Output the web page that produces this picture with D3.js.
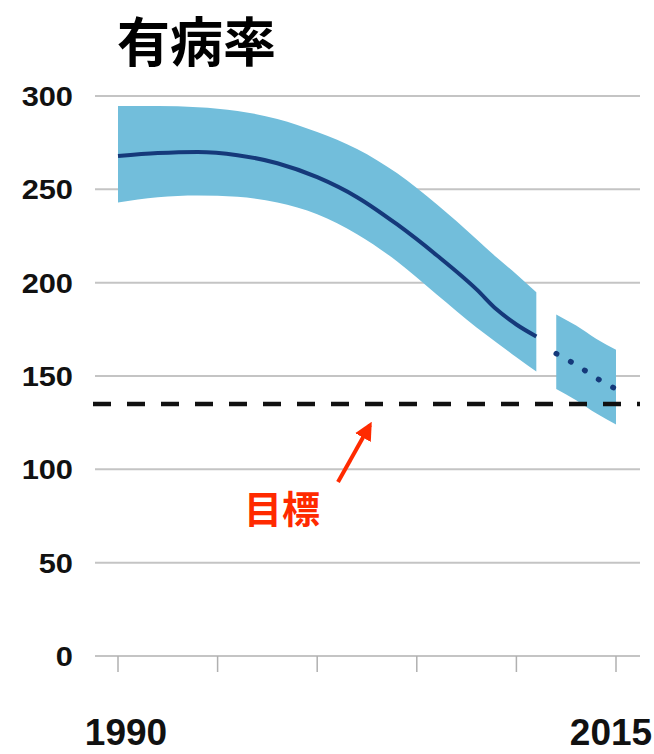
<!DOCTYPE html>
<html>
<head>
<meta charset="utf-8">
<script src="https://cdn.jsdelivr.net/npm/d3@7"></script>
<style>
  html, body { margin: 0; padding: 0; background: #ffffff; }
  svg { display: block; }
</style>
</head>
<body>
<div id="chart"></div>
<script>
// Prevalence estimates (per 100 000), 1990–2011 with uncertainty band
const years1 = [1990, 1992, 1994, 1996, 1998, 2000, 2002, 2004, 2006, 2008, 2009, 2010, 2011];
const mid1   = [267.8, 269.4, 270, 268.3, 264, 256.5, 245.8, 231.3, 214.7, 196.4, 185.7, 177.6, 171.2];
const upper1 = [294.6, 294.6, 294, 292, 287.7, 280.7, 271.6, 258.7, 242, 223.3, 213.6, 204.5, 194.8];
const lower1 = [243, 245.8, 246.7, 246, 243, 236.7, 226, 211.5, 193.7, 176, 168, 160, 152.4];

// Projection 2012–2015
const years2 = [2012, 2013, 2014, 2015];
const mid2   = [162, 156, 149, 143];
const upper2 = [183, 177, 170, 164];
const lower2 = [143, 137, 130, 124];

const targetValue = 135;
const yTicks = [0, 50, 100, 150, 200, 250, 300];
const xTicks = [1990, 1995, 2000, 2005, 2010, 2015];
const xLabels = [1990, 2015];

const W = 654, H = 754;
const svg = d3.select("#chart").append("svg").attr("width", W).attr("height", H);

const x = d3.scaleLinear().domain([1990, 2015]).range([118, 616]);
const y = d3.scaleLinear().domain([0, 300]).range([656, 96]);
const gridX0 = 95, gridX1 = 640;

// Title
svg.append("text")
  .attr("x", 117).attr("y", 62)
  .attr("font-family", "'Noto Sans CJK JP', 'Noto Sans CJK SC', sans-serif")
  .attr("font-weight", 700).attr("font-size", 53)
  .attr("fill", "#000").text("有病率");

// Horizontal gridlines
svg.append("g").selectAll("line").data(yTicks).join("line")
  .attr("x1", gridX0).attr("x2", gridX1)
  .attr("y1", d => y(d)).attr("y2", d => y(d))
  .attr("stroke", "#c4c4c4").attr("stroke-width", 2);

// Y labels (slightly widened bold digits)
svg.append("g").selectAll("text").data(yTicks).join("text")
  .attr("transform", d => `translate(73,${y(d)}) scale(1.1,1)`)
  .attr("dy", "0.36em")
  .attr("text-anchor", "end")
  .attr("font-family", "Arial, 'Liberation Sans', sans-serif")
  .attr("font-weight", 700).attr("font-size", 28)
  .attr("fill", "#111").text(d => d);

// X tick marks
svg.append("g").selectAll("line").data(xTicks).join("line")
  .attr("x1", d => x(d)).attr("x2", d => x(d))
  .attr("y1", y(0)).attr("y2", y(0) + 16)
  .attr("stroke", "#b0b0b0").attr("stroke-width", 1.5);

// X labels
svg.append("g").selectAll("text").data(xLabels).join("text")
  .attr("x", d => x(d) + (d === 1990 ? 8 : -5)).attr("y", 745)
  .attr("text-anchor", "middle")
  .attr("font-family", "Arial, 'Liberation Sans', sans-serif")
  .attr("font-weight", 700).attr("font-size", 37)
  .attr("fill", "#111").text(d => d);

const bandColor = "#72bedb";
const lineColor = "#15397a";

const area = d3.area().curve(d3.curveMonotoneX)
  .x(d => x(d.year)).y0(d => y(d.lo)).y1(d => y(d.hi));
const line = d3.line().curve(d3.curveMonotoneX)
  .x(d => x(d.year)).y(d => y(d.v));

const seg1 = years1.map((yr, i) => ({ year: yr, v: mid1[i], hi: upper1[i], lo: lower1[i] }));
const seg2 = years2.map((yr, i) => ({ year: yr, v: mid2[i], hi: upper2[i], lo: lower2[i] }));

svg.append("path").datum(seg1).attr("d", area).attr("fill", bandColor);
svg.append("path").datum(seg2).attr("d", area).attr("fill", bandColor);

svg.append("path").datum(seg1).attr("d", line)
  .attr("fill", "none").attr("stroke", lineColor).attr("stroke-width", 4);
svg.append("path").datum(seg2).attr("d", line)
  .attr("fill", "none").attr("stroke", lineColor).attr("stroke-width", 5.5)
  .attr("stroke-linecap", "round").attr("stroke-dasharray", "0.5 16");

// Target line
svg.append("line")
  .attr("x1", 93).attr("x2", gridX1)
  .attr("y1", y(targetValue)).attr("y2", y(targetValue))
  .attr("stroke", "#111").attr("stroke-width", 4.5)
  .attr("stroke-dasharray", "18 16");

// Target annotation
const red = "#ff2a00";
svg.append("defs").append("marker")
  .attr("id", "arrowhead").attr("viewBox", "0 0 10 10")
  .attr("refX", 8).attr("refY", 5)
  .attr("markerWidth", 4.5).attr("markerHeight", 4.5)
  .attr("orient", "auto")
  .append("path").attr("d", "M0,0 L10,5 L0,10 Z").attr("fill", red);

svg.append("line")
  .attr("x1", 338).attr("y1", 482)
  .attr("x2", 370).attr("y2", 425)
  .attr("stroke", red).attr("stroke-width", 4)
  .attr("marker-end", "url(#arrowhead)");

svg.append("text")
  .attr("x", 244).attr("y", 523)
  .attr("font-family", "'Noto Sans CJK JP', 'Noto Sans CJK SC', sans-serif")
  .attr("font-weight", 700).attr("font-size", 38)
  .attr("fill", red).text("目標");
</script>
</body>
</html>
